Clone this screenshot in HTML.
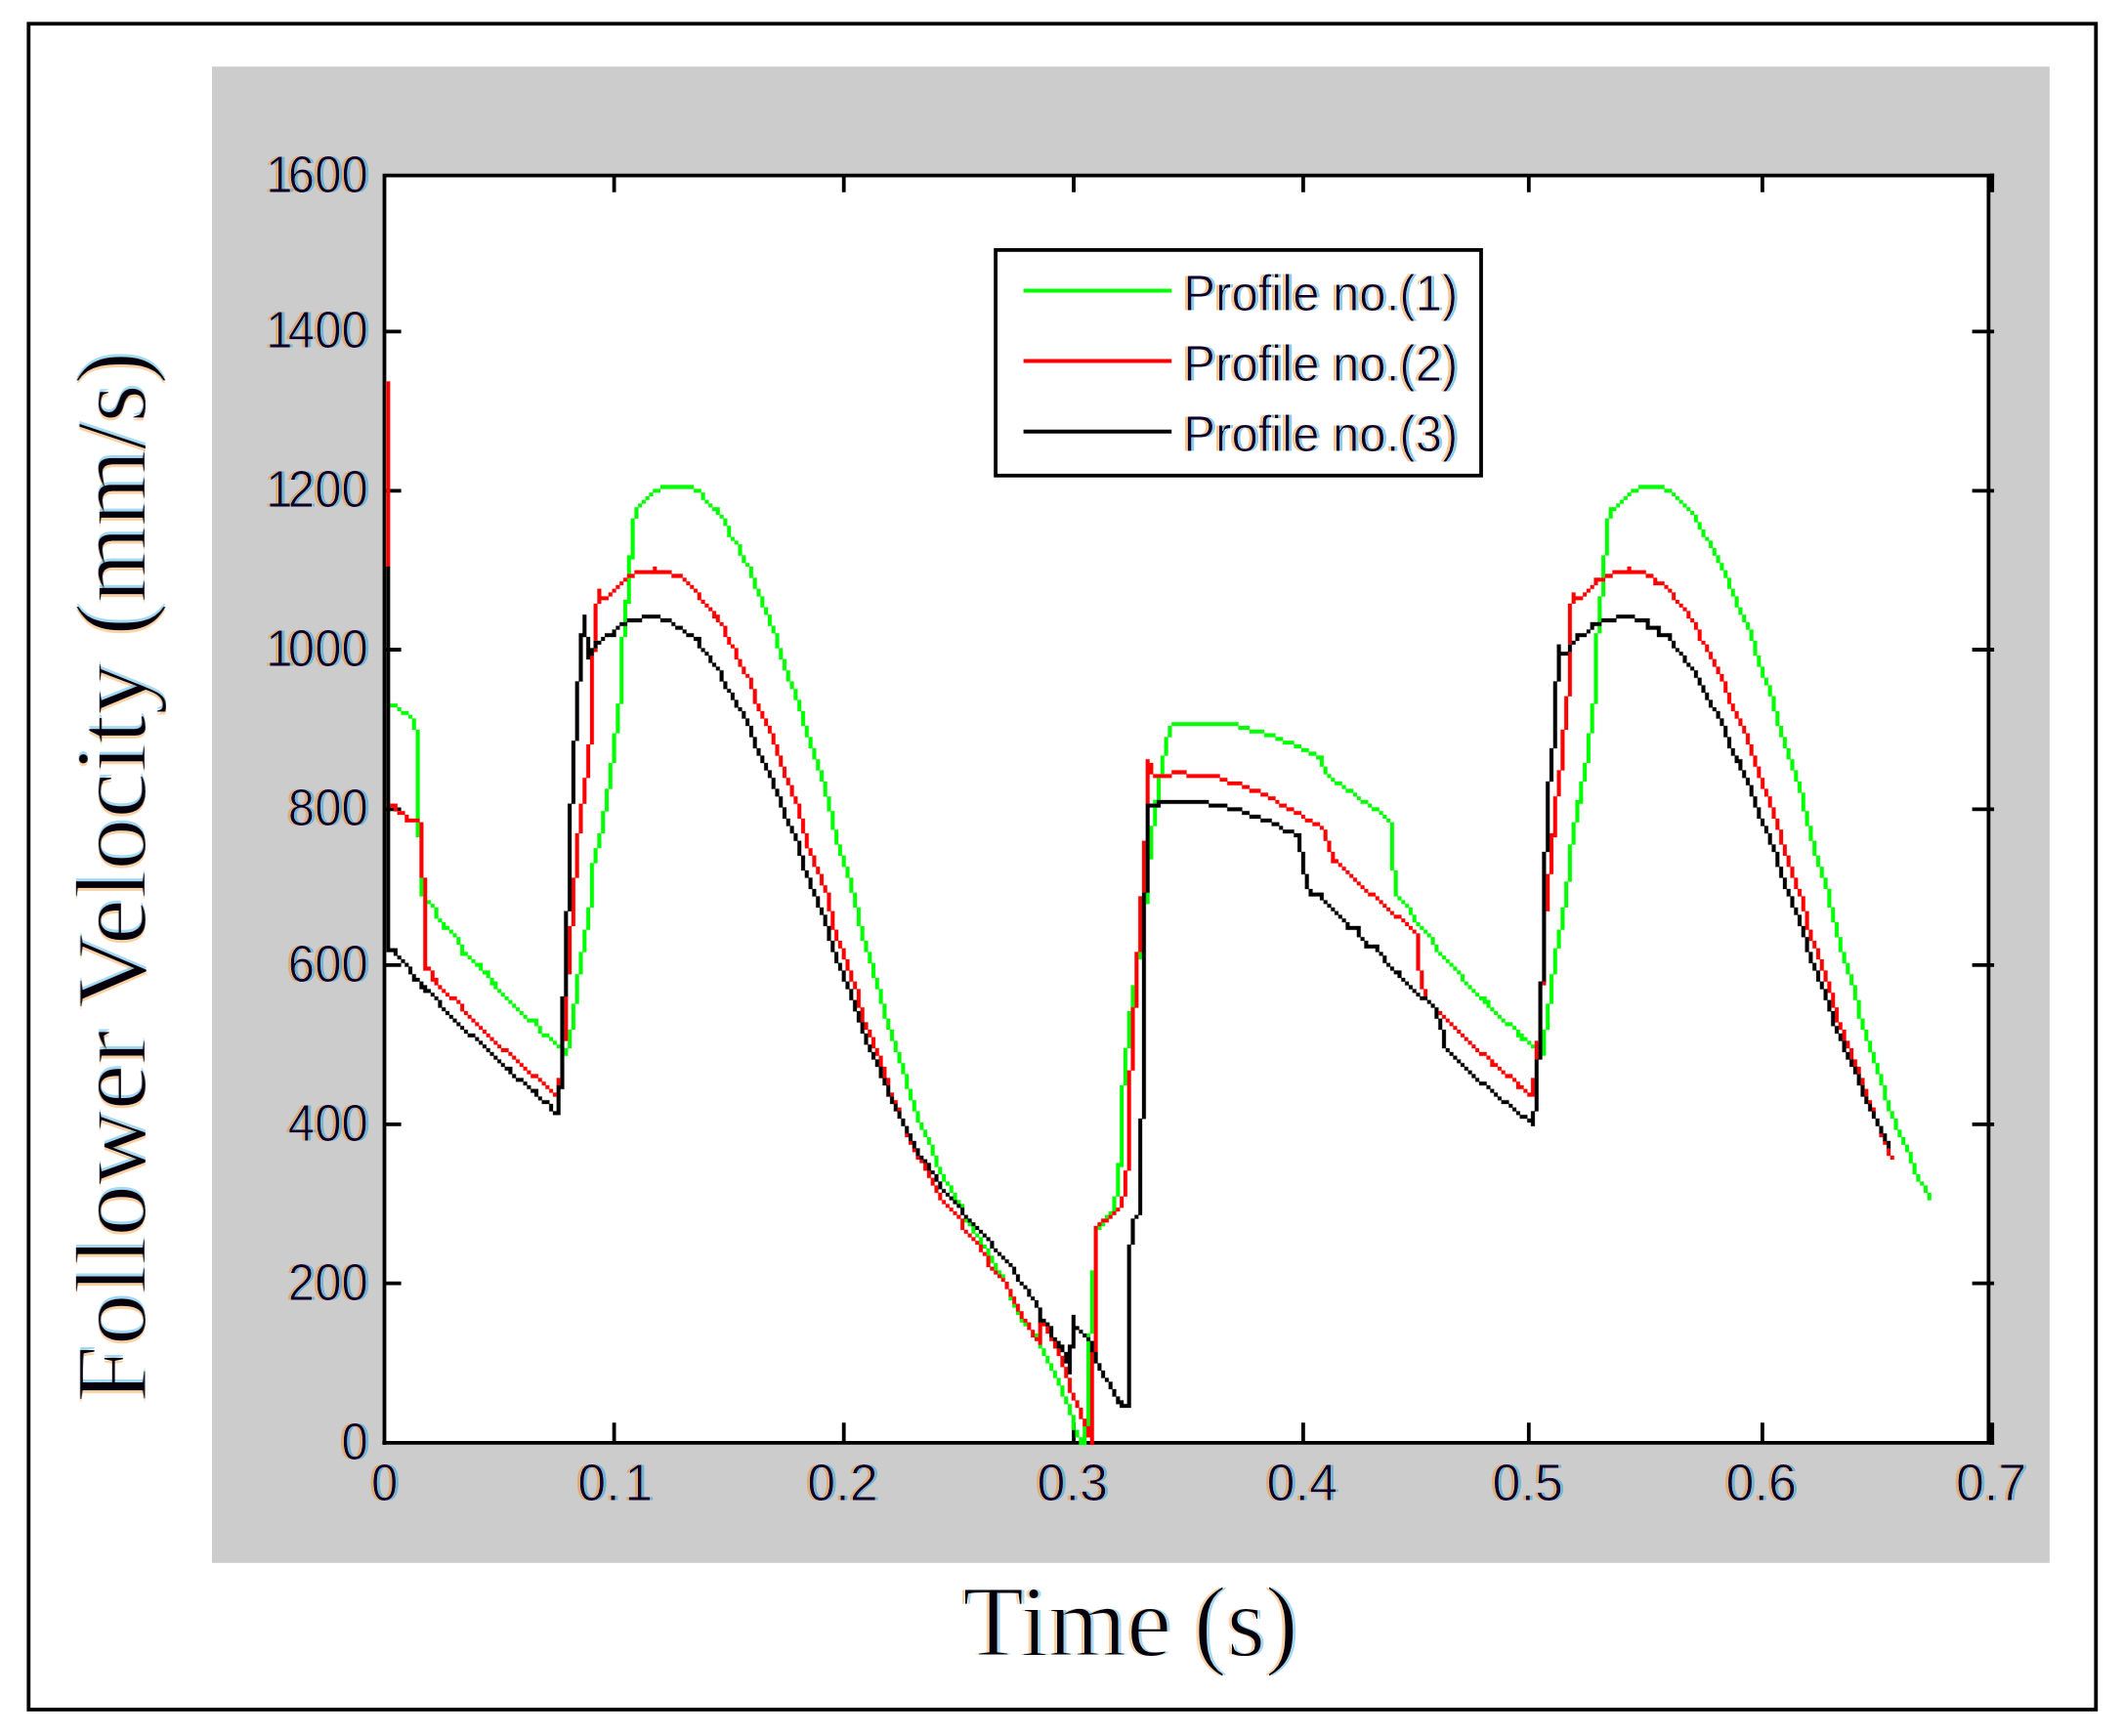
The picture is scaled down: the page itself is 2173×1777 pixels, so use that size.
<!DOCTYPE html>
<html lang="en"><head><meta charset="utf-8"><title>Follower Velocity vs Time</title>
<style>html,body{margin:0;padding:0;background:#fff}svg{display:block}.sans{font-family:"Liberation Sans",sans-serif;fill:#000}.serif{font-family:"Liberation Serif",serif;fill:#000;stroke:#fff;stroke-width:1.8px;paint-order:fill stroke;filter:url(#fs)}.tg{stroke:#ccc;stroke-width:1px;paint-order:fill stroke;filter:url(#fg)}.tw{stroke:#fff;stroke-width:1px;paint-order:fill stroke;filter:url(#fw)}.ln{fill:none;stroke-width:3.9;stroke-linejoin:miter;stroke-linecap:butt}</style></head><body>
<svg width="2173" height="1777" viewBox="0 0 2173 1777">
<defs>
<filter id="fg" x="-5%" y="-20%" width="110%" height="140%" color-interpolation-filters="sRGB">
<feColorMatrix in="SourceGraphic" type="matrix" values="0 0 0 0 0  0 0 0 0 0  0 0 0 0 0  -1.25 0 0 1 0" result="a"/>
<feFlood flood-color="#f09020" flood-opacity="0.5"/><feComposite in2="a" operator="in"/><feOffset dx="-2.7" result="l"/>
<feFlood flood-color="#18a0e0" flood-opacity="0.5"/><feComposite in2="a" operator="in"/><feOffset dx="2.7" result="r"/>
<feFlood flood-color="#12002a"/><feComposite in2="a" operator="in" result="c"/>
<feMerge><feMergeNode in="l"/><feMergeNode in="r"/><feMergeNode in="c"/></feMerge>
</filter>
<filter id="fw" x="-5%" y="-20%" width="110%" height="140%" color-interpolation-filters="sRGB">
<feColorMatrix in="SourceGraphic" type="matrix" values="0 0 0 0 0  0 0 0 0 0  0 0 0 0 0  -1 0 0 1 0" result="a"/>
<feFlood flood-color="#f09020" flood-opacity="0.5"/><feComposite in2="a" operator="in"/><feOffset dx="-2.7" result="l"/>
<feFlood flood-color="#18a0e0" flood-opacity="0.5"/><feComposite in2="a" operator="in"/><feOffset dx="2.7" result="r"/>
<feFlood flood-color="#12002a"/><feComposite in2="a" operator="in" result="c"/>
<feMerge><feMergeNode in="l"/><feMergeNode in="r"/><feMergeNode in="c"/></feMerge>
</filter>
<filter id="fs" x="-5%" y="-20%" width="110%" height="140%" color-interpolation-filters="sRGB">
<feColorMatrix in="SourceGraphic" type="matrix" values="0 0 0 0 0  0 0 0 0 0  0 0 0 0 0  -1 0 0 1 0" result="a"/>
<feFlood flood-color="#f09020" flood-opacity="0.4"/><feComposite in2="a" operator="in"/><feOffset dx="-2.6" result="l"/>
<feFlood flood-color="#18a0e0" flood-opacity="0.4"/><feComposite in2="a" operator="in"/><feOffset dx="2.6" result="r"/>
<feFlood flood-color="#06000c"/><feComposite in2="a" operator="in" result="c"/>
<feMerge><feMergeNode in="l"/><feMergeNode in="r"/><feMergeNode in="c"/></feMerge>
</filter>
</defs>
<rect x="0" y="0" width="2173" height="1777" fill="#fff"/>
<rect x="29.3" y="24.3" width="2116" height="1725.6" fill="none" stroke="#000" stroke-width="3.8"/>
<rect x="217" y="68.2" width="1880.9" height="1531.6" fill="#cccccc"/>
<rect x="393.5" y="179.7" width="1641.9" height="1297.2" fill="#fff"/>
<g stroke="#000" stroke-width="3.8" fill="none">
<path d="M393.5 1478.8000000000002V179.7H2041.1"/>
<path d="M391.6 1476.9H2041.1"/>
<path d="M2035.4 179.7V1476.9"/>
<path d="M628.6 1476.9V1456.2M628.6 179.7V196.8"/>
<path d="M863.7 1476.9V1456.2M863.7 179.7V196.8"/>
<path d="M1099.0 1476.9V1456.2M1099.0 179.7V196.8"/>
<path d="M1333.9 1476.9V1456.2M1333.9 179.7V196.8"/>
<path d="M1564.8 1476.9V1456.2M1564.8 179.7V196.8"/>
<path d="M1803.9 1476.9V1456.2M1803.9 179.7V196.8"/>
<path stroke-width="4.4" d="M2038.9 1478.8000000000002V1456.2M2038.9 177.79999999999998V196.8"/>
<path d="M393.5 339.3H410.6M2018.6 339.3H2041.1"/>
<path d="M393.5 502.4H410.6M2018.6 502.4H2041.1"/>
<path d="M393.5 665.0H410.6M2018.6 665.0H2041.1"/>
<path d="M393.5 828.3H410.6M2018.6 828.3H2041.1"/>
<path d="M393.5 987.8H410.6M2018.6 987.8H2041.1"/>
<path d="M393.5 1150.8H410.6M2018.6 1150.8H2041.1"/>
<path d="M393.5 1313.7H410.6M2018.6 1313.7H2041.1"/>
</g>
<path fill="#00ff00" stroke="#00ff00" stroke-width="0.3" d="M676.0 496.6h34.1v3.8h-34.1zM1677.1 496.6h26.5v3.8h-26.5zM668.4 500.4h7.6v3.8h-7.6zM710.1 500.4h7.6v3.8h-7.6zM1669.5 500.4h7.6v3.8h-7.6zM1703.6 500.4h7.6v3.8h-7.6zM664.6 504.2h3.8v3.8h-3.8zM1665.7 504.2h3.8v3.8h-3.8zM1711.2 504.2h3.8v3.8h-3.8zM717.7 504.2h3.8v7.6h-3.8zM660.8 508.0h3.8v3.8h-3.8zM1661.9 508.0h3.8v3.8h-3.8zM1715.0 508.0h3.8v3.8h-3.8zM657.0 511.7h3.8v3.8h-3.8zM721.5 511.7h3.8v3.8h-3.8zM1658.1 511.7h3.8v3.8h-3.8zM1718.8 511.7h3.8v3.8h-3.8zM653.2 515.5h3.8v3.8h-3.8zM725.3 515.5h3.8v3.8h-3.8zM1654.3 515.5h3.8v3.8h-3.8zM1722.6 515.5h3.8v3.8h-3.8zM729.1 519.3h3.8v3.8h-3.8zM1650.5 519.3h3.8v3.8h-3.8zM1726.4 519.3h3.8v3.8h-3.8zM732.9 519.3h3.8v7.6h-3.8zM649.5 519.3h3.8v11.4h-3.8zM1646.8 519.3h3.8v11.4h-3.8zM1730.2 523.1h3.8v3.8h-3.8zM736.7 526.9h3.8v3.8h-3.8zM1734.0 526.9h3.8v7.6h-3.8zM740.5 530.7h3.8v7.6h-3.8zM1643.0 530.7h3.8v37.9h-3.8zM645.7 530.7h3.8v41.7h-3.8zM1737.8 534.5h3.8v7.6h-3.8zM744.3 538.3h3.8v11.4h-3.8zM1741.6 542.1h3.8v7.6h-3.8zM748.0 549.7h3.8v3.8h-3.8zM1745.3 549.7h3.8v3.8h-3.8zM751.8 553.5h3.8v3.8h-3.8zM1749.1 553.5h3.8v7.6h-3.8zM755.6 557.3h3.8v11.4h-3.8zM1752.9 561.1h3.8v7.6h-3.8zM759.4 568.6h3.8v7.6h-3.8zM1756.7 568.6h3.8v7.6h-3.8zM641.9 568.6h3.8v19.0h-3.8zM1639.2 568.6h3.8v22.8h-3.8zM763.2 576.2h3.8v3.8h-3.8zM1760.5 576.2h3.8v7.6h-3.8zM767.0 580.0h3.8v11.4h-3.8zM1764.3 583.8h3.8v7.6h-3.8zM770.8 591.4h3.8v11.4h-3.8zM1768.1 591.4h3.8v11.4h-3.8zM641.9 591.4h3.8v26.5h-3.8zM1639.2 595.2h3.8v15.2h-3.8zM774.6 602.8h3.8v7.6h-3.8zM1771.9 602.8h3.8v7.6h-3.8zM778.4 610.4h3.8v11.4h-3.8zM1775.7 610.4h3.8v11.4h-3.8zM1635.4 610.4h3.8v26.5h-3.8zM638.1 614.1h3.8v22.8h-3.8zM782.2 621.7h3.8v7.6h-3.8zM1779.5 621.7h3.8v7.6h-3.8zM1783.3 629.3h3.8v7.6h-3.8zM786.0 629.3h3.8v11.4h-3.8zM1787.1 636.9h3.8v7.6h-3.8zM789.8 640.7h3.8v7.6h-3.8zM1635.4 640.7h3.8v7.6h-3.8zM638.1 640.7h3.8v11.4h-3.8zM1790.8 644.5h3.8v11.4h-3.8zM793.6 648.3h3.8v15.2h-3.8zM1631.6 648.3h3.8v72.1h-3.8zM634.3 652.1h3.8v68.3h-3.8zM1794.6 655.9h3.8v15.2h-3.8zM797.3 663.5h3.8v11.4h-3.8zM1798.4 671.0h3.8v11.4h-3.8zM801.1 674.8h3.8v11.4h-3.8zM1802.2 682.4h3.8v11.4h-3.8zM804.9 686.2h3.8v11.4h-3.8zM1806.0 693.8h3.8v7.6h-3.8zM808.7 697.6h3.8v7.6h-3.8zM1809.8 701.4h3.8v11.4h-3.8zM812.5 705.2h3.8v11.4h-3.8zM1813.6 712.8h3.8v15.2h-3.8zM816.3 716.6h3.8v11.4h-3.8zM399.2 720.3h7.6v3.8h-7.6zM630.5 720.3h3.8v30.3h-3.8zM1627.8 720.3h3.8v30.3h-3.8zM406.8 724.1h3.8v3.8h-3.8zM410.6 727.9h7.6v3.8h-7.6zM820.1 727.9h3.8v15.2h-3.8zM1817.4 727.9h3.8v15.2h-3.8zM418.1 731.7h3.8v3.8h-3.8zM421.9 735.5h3.8v11.4h-3.8zM1199.3 739.3h68.3v3.8h-68.3zM1267.6 743.1h11.4v3.8h-11.4zM823.9 743.1h3.8v11.4h-3.8zM1195.5 743.1h3.8v11.4h-3.8zM1821.2 743.1h3.8v11.4h-3.8zM1278.9 746.9h15.2v3.8h-15.2zM425.7 746.9h3.8v91.0h-3.8zM1294.1 750.7h11.4v3.8h-11.4zM626.7 750.7h3.8v30.3h-3.8zM1624.0 750.7h3.8v30.3h-3.8zM1305.5 754.5h7.6v3.8h-7.6zM827.7 754.5h3.8v11.4h-3.8zM1825.0 754.5h3.8v11.4h-3.8zM1191.7 754.5h3.8v19.0h-3.8zM1313.1 758.3h11.4v3.8h-11.4zM1324.4 762.1h7.6v3.8h-7.6zM1332.0 765.9h7.6v3.8h-7.6zM831.5 765.9h3.8v11.4h-3.8zM1828.8 765.9h3.8v11.4h-3.8zM1339.6 769.6h7.6v3.8h-7.6zM1347.2 773.4h3.8v3.8h-3.8zM1351.0 773.4h3.8v11.4h-3.8zM1187.9 773.4h3.8v19.0h-3.8zM835.3 777.2h3.8v11.4h-3.8zM1832.6 777.2h3.8v11.4h-3.8zM1620.2 781.0h3.8v19.0h-3.8zM622.9 781.0h3.8v26.5h-3.8zM1354.8 784.8h3.8v7.6h-3.8zM839.1 788.6h3.8v11.4h-3.8zM1836.4 788.6h3.8v11.4h-3.8zM1358.6 792.4h3.8v3.8h-3.8zM1362.4 796.2h3.8v3.8h-3.8zM1184.1 796.2h3.8v22.8h-3.8zM1366.1 800.0h7.6v3.8h-7.6zM1840.1 800.0h3.8v11.4h-3.8zM842.8 800.0h3.8v15.2h-3.8zM1616.4 800.0h3.8v22.8h-3.8zM1373.7 803.8h3.8v3.8h-3.8zM1377.5 807.6h7.6v3.8h-7.6zM619.1 807.6h3.8v22.8h-3.8zM1385.1 811.4h3.8v3.8h-3.8zM1843.9 811.4h3.8v19.0h-3.8zM1388.9 815.2h3.8v3.8h-3.8zM846.6 815.2h3.8v15.2h-3.8zM1180.3 819.0h3.8v3.8h-3.8zM1392.7 819.0h7.6v3.8h-7.6zM1612.6 819.0h3.8v22.8h-3.8zM1400.3 822.7h3.8v3.8h-3.8zM1404.1 826.5h7.6v3.8h-7.6zM1180.3 826.5h3.8v19.0h-3.8zM1411.7 830.3h3.8v3.8h-3.8zM1847.7 830.3h3.8v15.2h-3.8zM850.4 830.3h3.8v19.0h-3.8zM615.3 830.3h3.8v22.8h-3.8zM1415.4 834.1h3.8v3.8h-3.8zM1419.2 837.9h3.8v3.8h-3.8zM425.7 841.7h3.8v15.2h-3.8zM1608.8 841.7h3.8v22.8h-3.8zM1423.0 841.7h3.8v49.3h-3.8zM1851.5 845.5h3.8v15.2h-3.8zM1176.5 845.5h3.8v34.1h-3.8zM854.2 849.3h3.8v15.2h-3.8zM611.5 853.1h3.8v15.2h-3.8zM1855.3 860.7h3.8v15.2h-3.8zM858.0 864.5h3.8v11.4h-3.8zM1605.0 864.5h3.8v37.9h-3.8zM607.7 868.3h3.8v15.2h-3.8zM861.8 875.8h3.8v11.4h-3.8zM1859.1 875.8h3.8v11.4h-3.8zM604.0 883.4h3.8v45.5h-3.8zM865.6 887.2h3.8v11.4h-3.8zM1862.9 887.2h3.8v11.4h-3.8zM1426.8 891.0h3.8v26.5h-3.8zM1866.7 898.6h3.8v11.4h-3.8zM869.4 898.6h3.8v15.2h-3.8zM429.5 898.6h3.8v19.0h-3.8zM1601.2 902.4h3.8v26.5h-3.8zM1870.5 910.0h3.8v19.0h-3.8zM1172.8 913.8h3.8v11.4h-3.8zM873.2 913.8h3.8v15.2h-3.8zM1430.6 917.6h3.8v3.8h-3.8zM437.1 921.4h3.8v3.8h-3.8zM1434.4 921.4h3.8v3.8h-3.8zM440.9 925.2h3.8v3.8h-3.8zM1438.2 925.2h3.8v3.8h-3.8zM1442.0 928.9h3.8v7.6h-3.8zM444.7 928.9h3.8v11.4h-3.8zM1874.3 928.9h3.8v15.2h-3.8zM877.0 928.9h3.8v19.0h-3.8zM600.2 928.9h3.8v22.8h-3.8zM1597.5 928.9h3.8v22.8h-3.8zM1445.8 936.5h3.8v7.6h-3.8zM448.5 940.3h3.8v3.8h-3.8zM1449.6 944.1h3.8v3.8h-3.8zM452.3 944.1h3.8v7.6h-3.8zM1878.1 944.1h3.8v15.2h-3.8zM456.1 947.9h3.8v3.8h-3.8zM1453.4 947.9h3.8v3.8h-3.8zM880.8 947.9h3.8v15.2h-3.8zM459.9 951.7h3.8v3.8h-3.8zM1457.2 951.7h3.8v3.8h-3.8zM1593.7 951.7h3.8v19.0h-3.8zM596.4 951.7h3.8v22.8h-3.8zM463.6 955.5h3.8v3.8h-3.8zM1460.9 955.5h3.8v3.8h-3.8zM467.4 959.3h3.8v7.6h-3.8zM1464.7 959.3h3.8v7.6h-3.8zM1881.9 959.3h3.8v15.2h-3.8zM884.6 963.1h3.8v11.4h-3.8zM1468.5 966.9h3.8v7.6h-3.8zM471.2 966.9h3.8v11.4h-3.8zM1589.9 970.7h3.8v26.5h-3.8zM475.0 974.5h3.8v3.8h-3.8zM1472.3 974.5h3.8v3.8h-3.8zM1165.2 974.5h3.8v7.6h-3.8zM888.4 974.5h3.8v11.4h-3.8zM1885.7 974.5h3.8v11.4h-3.8zM592.6 974.5h3.8v22.8h-3.8zM478.8 978.2h3.8v3.8h-3.8zM1476.1 978.2h3.8v3.8h-3.8zM482.6 982.0h3.8v3.8h-3.8zM1479.9 982.0h3.8v3.8h-3.8zM486.4 985.8h3.8v3.8h-3.8zM1483.7 985.8h3.8v3.8h-3.8zM490.2 985.8h3.8v7.6h-3.8zM1889.4 985.8h3.8v11.4h-3.8zM892.1 985.8h3.8v15.2h-3.8zM1487.5 989.6h3.8v3.8h-3.8zM494.0 993.4h3.8v3.8h-3.8zM1491.3 993.4h3.8v3.8h-3.8zM497.8 993.4h3.8v7.6h-3.8zM1495.1 997.2h3.8v7.6h-3.8zM1893.2 997.2h3.8v11.4h-3.8zM588.8 997.2h3.8v30.3h-3.8zM1586.1 997.2h3.8v30.3h-3.8zM501.6 1001.0h3.8v7.6h-3.8zM895.9 1001.0h3.8v11.4h-3.8zM1498.9 1004.8h3.8v3.8h-3.8zM505.4 1004.8h3.8v7.6h-3.8zM1502.7 1008.6h3.8v3.8h-3.8zM1897.0 1008.6h3.8v15.2h-3.8zM1157.6 1008.6h3.8v22.8h-3.8zM509.2 1012.4h3.8v3.8h-3.8zM1506.5 1012.4h3.8v3.8h-3.8zM899.7 1012.4h3.8v15.2h-3.8zM512.9 1016.2h3.8v3.8h-3.8zM1510.2 1016.2h3.8v3.8h-3.8zM516.7 1020.0h3.8v3.8h-3.8zM1514.0 1020.0h3.8v3.8h-3.8zM1517.8 1020.0h3.8v7.6h-3.8zM520.5 1023.8h3.8v3.8h-3.8zM1521.6 1023.8h3.8v7.6h-3.8zM1900.8 1023.8h3.8v19.0h-3.8zM524.3 1027.6h3.8v3.8h-3.8zM903.5 1027.6h3.8v15.2h-3.8zM585.0 1027.6h3.8v26.5h-3.8zM1582.3 1027.6h3.8v26.5h-3.8zM528.1 1031.3h3.8v3.8h-3.8zM1525.4 1031.3h3.8v3.8h-3.8zM531.9 1035.1h3.8v3.8h-3.8zM1529.2 1035.1h3.8v3.8h-3.8zM1153.8 1035.1h3.8v37.9h-3.8zM535.7 1038.9h3.8v3.8h-3.8zM1533.0 1038.9h3.8v3.8h-3.8zM539.5 1042.7h7.6v3.8h-7.6zM1536.8 1042.7h3.8v3.8h-3.8zM547.1 1042.7h3.8v7.6h-3.8zM907.3 1042.7h3.8v11.4h-3.8zM1904.6 1042.7h3.8v11.4h-3.8zM1540.6 1046.5h7.6v3.8h-7.6zM1548.2 1050.3h3.8v3.8h-3.8zM550.9 1050.3h3.8v7.6h-3.8zM1552.0 1054.1h3.8v7.6h-3.8zM911.1 1054.1h3.8v11.4h-3.8zM1908.4 1054.1h3.8v11.4h-3.8zM581.2 1054.1h3.8v19.0h-3.8zM1578.5 1054.1h3.8v26.5h-3.8zM554.7 1057.9h7.6v3.8h-7.6zM1555.7 1057.9h3.8v7.6h-3.8zM562.2 1061.7h3.8v3.8h-3.8zM1559.5 1061.7h3.8v3.8h-3.8zM566.0 1065.5h3.8v3.8h-3.8zM1563.3 1065.5h3.8v3.8h-3.8zM914.9 1065.5h3.8v11.4h-3.8zM1912.2 1065.5h3.8v11.4h-3.8zM569.8 1069.3h3.8v3.8h-3.8zM1567.1 1069.3h3.8v3.8h-3.8zM577.4 1073.1h3.8v7.6h-3.8zM1150.0 1073.1h3.8v37.9h-3.8zM918.7 1076.9h3.8v11.4h-3.8zM1916.0 1076.9h3.8v11.4h-3.8zM922.5 1088.2h3.8v11.4h-3.8zM1919.8 1088.2h3.8v11.4h-3.8zM1923.6 1099.6h3.8v11.4h-3.8zM926.3 1099.6h3.8v15.2h-3.8zM1927.4 1111.0h3.8v15.2h-3.8zM1146.2 1111.0h3.8v83.4h-3.8zM930.1 1114.8h3.8v11.4h-3.8zM933.9 1126.2h3.8v11.4h-3.8zM1931.2 1126.2h3.8v11.4h-3.8zM1934.9 1137.5h3.8v7.6h-3.8zM937.6 1137.5h3.8v11.4h-3.8zM1938.7 1145.1h3.8v11.4h-3.8zM941.4 1148.9h3.8v7.6h-3.8zM945.2 1156.5h3.8v7.6h-3.8zM1942.5 1156.5h3.8v7.6h-3.8zM949.0 1164.1h3.8v7.6h-3.8zM1946.3 1164.1h3.8v7.6h-3.8zM1950.1 1171.7h3.8v7.6h-3.8zM952.8 1171.7h3.8v11.4h-3.8zM1953.9 1179.3h3.8v11.4h-3.8zM956.6 1183.1h3.8v11.4h-3.8zM1957.7 1190.6h3.8v11.4h-3.8zM1142.4 1190.6h3.8v34.1h-3.8zM960.4 1194.4h3.8v7.6h-3.8zM964.2 1202.0h3.8v7.6h-3.8zM1961.5 1202.0h3.8v7.6h-3.8zM968.0 1209.6h3.8v3.8h-3.8zM1965.3 1209.6h3.8v3.8h-3.8zM971.8 1213.4h3.8v7.6h-3.8zM1969.1 1213.4h3.8v7.6h-3.8zM975.6 1221.0h3.8v7.6h-3.8zM1972.9 1221.0h3.8v7.6h-3.8zM1138.6 1224.8h3.8v15.2h-3.8zM979.4 1228.6h3.8v3.8h-3.8zM983.2 1232.4h3.8v3.8h-3.8zM1134.8 1239.9h3.8v3.8h-3.8zM1131.0 1243.7h3.8v3.8h-3.8zM986.9 1247.5h3.8v3.8h-3.8zM990.7 1251.3h3.8v3.8h-3.8zM1127.2 1251.3h3.8v3.8h-3.8zM1123.5 1255.1h3.8v3.8h-3.8zM994.5 1255.1h3.8v7.6h-3.8zM998.3 1262.7h3.8v3.8h-3.8zM1002.1 1266.5h3.8v7.6h-3.8zM1005.9 1274.1h3.8v3.8h-3.8zM1009.7 1277.9h3.8v7.6h-3.8zM1013.5 1285.5h3.8v7.6h-3.8zM1017.3 1293.0h3.8v7.6h-3.8zM1021.1 1300.6h3.8v3.8h-3.8zM1115.9 1300.6h3.8v64.5h-3.8zM1024.9 1304.4h3.8v3.8h-3.8zM1032.5 1327.2h3.8v3.8h-3.8zM1036.2 1334.8h3.8v3.8h-3.8zM1040.0 1342.3h3.8v3.8h-3.8zM1043.8 1349.9h3.8v3.8h-3.8zM1047.6 1353.7h3.8v3.8h-3.8zM1059.0 1365.1h3.8v3.8h-3.8zM1112.1 1365.1h3.8v3.8h-3.8zM1112.1 1372.7h3.8v87.2h-3.8zM1062.8 1376.5h3.8v3.8h-3.8zM1066.6 1380.3h3.8v7.6h-3.8zM1070.4 1387.9h3.8v7.6h-3.8zM1074.2 1395.4h3.8v7.6h-3.8zM1078.0 1403.0h3.8v7.6h-3.8zM1081.7 1410.6h3.8v7.6h-3.8zM1085.5 1418.2h3.8v11.4h-3.8zM1089.3 1429.6h3.8v7.6h-3.8zM1093.1 1437.2h3.8v11.4h-3.8zM1096.9 1448.5h3.8v15.2h-3.8zM1108.3 1459.9h3.8v19.0h-3.8zM1100.7 1463.7h3.8v7.6h-3.8zM1104.5 1471.3h3.8v7.6h-3.8z"/>
<path fill="#ff0000" stroke="#ff0000" stroke-width="0.3" d="M395.4 390.4h3.8v189.6h-3.8zM668.4 580.0h3.8v7.6h-3.8zM1665.7 580.0h3.8v7.6h-3.8zM649.5 583.8h19.0v3.8h-19.0zM672.2 583.8h15.2v3.8h-15.2zM1650.5 583.8h15.2v3.8h-15.2zM1669.5 583.8h15.2v3.8h-15.2zM641.9 587.6h7.6v3.8h-7.6zM687.4 587.6h11.4v3.8h-11.4zM1643.0 587.6h7.6v3.8h-7.6zM1684.7 587.6h7.6v3.8h-7.6zM638.1 591.4h3.8v3.8h-3.8zM698.8 591.4h3.8v3.8h-3.8zM1635.4 591.4h7.6v3.8h-7.6zM1631.6 591.4h3.8v7.6h-3.8zM1692.3 591.4h3.8v7.6h-3.8zM634.3 595.2h3.8v3.8h-3.8zM702.5 595.2h3.8v3.8h-3.8zM1696.0 595.2h7.6v3.8h-7.6zM630.5 599.0h3.8v3.8h-3.8zM706.3 599.0h3.8v3.8h-3.8zM1627.8 599.0h3.8v3.8h-3.8zM1703.6 599.0h3.8v3.8h-3.8zM626.7 602.8h3.8v3.8h-3.8zM710.1 602.8h3.8v3.8h-3.8zM1624.0 602.8h3.8v3.8h-3.8zM1707.4 602.8h3.8v3.8h-3.8zM611.5 602.8h3.8v15.2h-3.8zM622.9 606.6h3.8v3.8h-3.8zM1620.2 606.6h3.8v3.8h-3.8zM713.9 606.6h3.8v7.6h-3.8zM1711.2 606.6h3.8v7.6h-3.8zM1608.8 606.6h3.8v11.4h-3.8zM615.3 610.4h7.6v3.8h-7.6zM1612.6 610.4h7.6v3.8h-7.6zM717.7 614.1h3.8v3.8h-3.8zM1715.0 614.1h3.8v3.8h-3.8zM721.5 617.9h3.8v3.8h-3.8zM1718.8 617.9h3.8v3.8h-3.8zM607.7 617.9h3.8v37.9h-3.8zM1605.0 617.9h3.8v41.7h-3.8zM725.3 621.7h3.8v3.8h-3.8zM1722.6 621.7h3.8v3.8h-3.8zM729.1 625.5h3.8v7.6h-3.8zM1726.4 625.5h3.8v7.6h-3.8zM732.9 629.3h3.8v7.6h-3.8zM1730.2 633.1h3.8v3.8h-3.8zM736.7 636.9h3.8v3.8h-3.8zM1734.0 636.9h3.8v7.6h-3.8zM740.5 640.7h3.8v11.4h-3.8zM1737.8 644.5h3.8v11.4h-3.8zM744.3 652.1h3.8v7.6h-3.8zM1741.6 655.9h3.8v3.8h-3.8zM748.0 659.7h3.8v3.8h-3.8zM1745.3 659.7h3.8v7.6h-3.8zM607.7 663.5h3.8v3.8h-3.8zM751.8 663.5h3.8v11.4h-3.8zM1749.1 667.2h3.8v7.6h-3.8zM1605.0 667.2h3.8v45.5h-3.8zM604.0 671.0h3.8v91.0h-3.8zM755.6 674.8h3.8v7.6h-3.8zM1752.9 674.8h3.8v7.6h-3.8zM759.4 682.4h3.8v7.6h-3.8zM1756.7 682.4h3.8v7.6h-3.8zM763.2 690.0h3.8v3.8h-3.8zM1760.5 690.0h3.8v7.6h-3.8zM767.0 693.8h3.8v11.4h-3.8zM1764.3 697.6h3.8v11.4h-3.8zM770.8 705.2h3.8v15.2h-3.8zM1768.1 709.0h3.8v11.4h-3.8zM1601.2 712.8h3.8v34.1h-3.8zM774.6 720.3h3.8v7.6h-3.8zM1771.9 720.3h3.8v7.6h-3.8zM778.4 727.9h3.8v7.6h-3.8zM1775.7 727.9h3.8v7.6h-3.8zM782.2 735.5h3.8v7.6h-3.8zM1779.5 735.5h3.8v7.6h-3.8zM786.0 743.1h3.8v7.6h-3.8zM1783.3 743.1h3.8v7.6h-3.8zM1597.5 746.9h3.8v41.7h-3.8zM789.8 750.7h3.8v11.4h-3.8zM1787.1 750.7h3.8v11.4h-3.8zM793.6 762.1h3.8v11.4h-3.8zM1790.8 762.1h3.8v11.4h-3.8zM600.2 762.1h3.8v34.1h-3.8zM797.3 773.4h3.8v11.4h-3.8zM1794.6 773.4h3.8v11.4h-3.8zM1172.8 777.2h3.8v45.5h-3.8zM1176.5 781.0h3.8v11.4h-3.8zM801.1 784.8h3.8v11.4h-3.8zM1798.4 784.8h3.8v11.4h-3.8zM1199.3 788.6h15.2v3.8h-15.2zM1593.7 788.6h3.8v26.5h-3.8zM1180.3 792.4h19.0v3.8h-19.0zM1214.5 792.4h34.1v3.8h-34.1zM1248.6 796.2h7.6v3.8h-7.6zM804.9 796.2h3.8v7.6h-3.8zM1802.2 796.2h3.8v11.4h-3.8zM596.4 796.2h3.8v26.5h-3.8zM1256.2 800.0h15.2v3.8h-15.2zM1271.3 803.8h7.6v3.8h-7.6zM808.7 803.8h3.8v11.4h-3.8zM1278.9 807.6h11.4v3.8h-11.4zM1806.0 807.6h3.8v7.6h-3.8zM1290.3 811.4h7.6v3.8h-7.6zM1297.9 815.2h7.6v3.8h-7.6zM812.5 815.2h3.8v7.6h-3.8zM1809.8 815.2h3.8v11.4h-3.8zM1589.9 815.2h3.8v41.7h-3.8zM1305.5 819.0h3.8v3.8h-3.8zM399.2 822.7h3.8v3.8h-3.8zM1309.3 822.7h7.6v3.8h-7.6zM403.0 822.7h3.8v7.6h-3.8zM816.3 822.7h3.8v15.2h-3.8zM592.6 822.7h3.8v30.3h-3.8zM1316.8 826.5h7.6v3.8h-7.6zM1813.6 826.5h3.8v11.4h-3.8zM406.8 830.3h7.6v3.8h-7.6zM1324.4 830.3h7.6v3.8h-7.6zM1332.0 834.1h3.8v3.8h-3.8zM414.4 834.1h3.8v7.6h-3.8zM418.1 837.9h11.4v3.8h-11.4zM1335.8 837.9h7.6v3.8h-7.6zM1817.4 837.9h3.8v11.4h-3.8zM820.1 837.9h3.8v15.2h-3.8zM1343.4 841.7h7.6v3.8h-7.6zM429.5 841.7h3.8v56.9h-3.8zM1351.0 845.5h3.8v3.8h-3.8zM1354.8 849.3h3.8v11.4h-3.8zM1821.2 849.3h3.8v15.2h-3.8zM823.9 853.1h3.8v15.2h-3.8zM1586.1 853.1h3.8v41.7h-3.8zM588.8 853.1h3.8v45.5h-3.8zM1358.6 860.7h3.8v11.4h-3.8zM1169.0 860.7h3.8v53.1h-3.8zM1825.0 864.5h3.8v11.4h-3.8zM827.7 868.3h3.8v7.6h-3.8zM1362.4 872.1h3.8v11.4h-3.8zM831.5 875.8h3.8v11.4h-3.8zM1828.8 875.8h3.8v11.4h-3.8zM1366.1 879.6h3.8v3.8h-3.8zM1369.9 883.4h3.8v3.8h-3.8zM1373.7 887.2h3.8v3.8h-3.8zM835.3 887.2h3.8v7.6h-3.8zM1832.6 887.2h3.8v11.4h-3.8zM1377.5 891.0h3.8v3.8h-3.8zM1381.3 894.8h3.8v3.8h-3.8zM839.1 894.8h3.8v11.4h-3.8zM1582.3 894.8h3.8v37.9h-3.8zM1385.1 898.6h3.8v3.8h-3.8zM1836.4 898.6h3.8v11.4h-3.8zM585.0 898.6h3.8v49.3h-3.8zM433.3 898.6h3.8v94.8h-3.8zM1388.9 902.4h3.8v3.8h-3.8zM1392.7 906.2h3.8v3.8h-3.8zM842.8 906.2h3.8v7.6h-3.8zM1396.5 910.0h3.8v3.8h-3.8zM1840.1 910.0h3.8v7.6h-3.8zM1400.3 913.8h7.6v3.8h-7.6zM846.6 913.8h3.8v19.0h-3.8zM1407.9 917.6h3.8v3.8h-3.8zM1843.9 917.6h3.8v15.2h-3.8zM1165.2 917.6h3.8v56.9h-3.8zM1411.7 921.4h3.8v3.8h-3.8zM1415.4 925.2h3.8v3.8h-3.8zM1419.2 928.9h3.8v3.8h-3.8zM1423.0 932.7h3.8v3.8h-3.8zM850.4 932.7h3.8v19.0h-3.8zM1847.7 932.7h3.8v19.0h-3.8zM1426.8 936.5h7.6v3.8h-7.6zM1434.4 940.3h3.8v3.8h-3.8zM1438.2 944.1h3.8v3.8h-3.8zM1442.0 947.9h3.8v3.8h-3.8zM581.2 947.9h3.8v49.3h-3.8zM1445.8 951.7h3.8v3.8h-3.8zM854.2 951.7h3.8v11.4h-3.8zM1851.5 951.7h3.8v11.4h-3.8zM1449.6 955.5h3.8v37.9h-3.8zM858.0 963.1h3.8v7.6h-3.8zM1855.3 963.1h3.8v7.6h-3.8zM861.8 970.7h3.8v11.4h-3.8zM1859.1 970.7h3.8v11.4h-3.8zM1161.4 974.5h3.8v56.9h-3.8zM865.6 982.0h3.8v11.4h-3.8zM1862.9 982.0h3.8v11.4h-3.8zM437.1 989.6h3.8v3.8h-3.8zM440.9 993.4h3.8v11.4h-3.8zM869.4 993.4h3.8v11.4h-3.8zM1866.7 993.4h3.8v11.4h-3.8zM1453.4 993.4h3.8v19.0h-3.8zM444.7 1001.0h3.8v7.6h-3.8zM1578.5 1004.8h3.8v3.8h-3.8zM873.2 1004.8h3.8v7.6h-3.8zM1870.5 1004.8h3.8v11.4h-3.8zM448.5 1008.6h3.8v3.8h-3.8zM452.3 1012.4h3.8v3.8h-3.8zM1457.2 1012.4h3.8v7.6h-3.8zM877.0 1012.4h3.8v19.0h-3.8zM456.1 1016.2h3.8v3.8h-3.8zM1874.3 1016.2h3.8v15.2h-3.8zM459.9 1020.0h7.6v3.8h-7.6zM577.4 1020.0h3.8v45.5h-3.8zM467.4 1023.8h3.8v3.8h-3.8zM471.2 1027.6h3.8v7.6h-3.8zM880.8 1031.3h3.8v15.2h-3.8zM1878.1 1031.3h3.8v15.2h-3.8zM1157.6 1031.3h3.8v64.5h-3.8zM475.0 1035.1h3.8v3.8h-3.8zM1472.3 1035.1h3.8v3.8h-3.8zM478.8 1038.9h3.8v3.8h-3.8zM1476.1 1038.9h3.8v3.8h-3.8zM482.6 1042.7h3.8v3.8h-3.8zM1479.9 1042.7h3.8v3.8h-3.8zM486.4 1046.5h3.8v3.8h-3.8zM1483.7 1046.5h3.8v3.8h-3.8zM884.6 1046.5h3.8v7.6h-3.8zM1881.9 1046.5h3.8v7.6h-3.8zM490.2 1050.3h3.8v3.8h-3.8zM1487.5 1050.3h3.8v3.8h-3.8zM494.0 1054.1h3.8v3.8h-3.8zM1491.3 1054.1h3.8v3.8h-3.8zM888.4 1054.1h3.8v7.6h-3.8zM1885.7 1054.1h3.8v11.4h-3.8zM497.8 1057.9h3.8v3.8h-3.8zM1495.1 1057.9h3.8v3.8h-3.8zM501.6 1061.7h3.8v3.8h-3.8zM1498.9 1061.7h3.8v3.8h-3.8zM892.1 1061.7h3.8v11.4h-3.8zM505.4 1065.5h3.8v3.8h-3.8zM1502.7 1065.5h3.8v3.8h-3.8zM1889.4 1065.5h3.8v7.6h-3.8zM1570.9 1065.5h3.8v19.0h-3.8zM509.2 1069.3h3.8v3.8h-3.8zM1506.5 1069.3h3.8v3.8h-3.8zM512.9 1073.1h7.6v3.8h-7.6zM1510.2 1073.1h3.8v3.8h-3.8zM895.9 1073.1h3.8v7.6h-3.8zM1893.2 1073.1h3.8v11.4h-3.8zM520.5 1076.9h3.8v3.8h-3.8zM1514.0 1076.9h7.6v3.8h-7.6zM524.3 1080.7h3.8v3.8h-3.8zM1521.6 1080.7h3.8v3.8h-3.8zM899.7 1080.7h3.8v11.4h-3.8zM528.1 1084.4h3.8v3.8h-3.8zM1525.4 1084.4h3.8v7.6h-3.8zM1897.0 1084.4h3.8v7.6h-3.8zM531.9 1088.2h3.8v3.8h-3.8zM1529.2 1088.2h3.8v3.8h-3.8zM535.7 1092.0h3.8v3.8h-3.8zM1533.0 1092.0h3.8v3.8h-3.8zM1900.8 1092.0h3.8v7.6h-3.8zM903.5 1092.0h3.8v11.4h-3.8zM539.5 1095.8h3.8v3.8h-3.8zM1536.8 1095.8h3.8v3.8h-3.8zM1153.8 1095.8h3.8v102.4h-3.8zM543.3 1099.6h7.6v3.8h-7.6zM1540.6 1099.6h7.6v3.8h-7.6zM550.9 1103.4h3.8v3.8h-3.8zM1548.2 1103.4h3.8v3.8h-3.8zM569.8 1103.4h3.8v7.6h-3.8zM907.3 1103.4h3.8v7.6h-3.8zM1904.6 1103.4h3.8v7.6h-3.8zM1567.1 1103.4h3.8v19.0h-3.8zM554.7 1107.2h3.8v3.8h-3.8zM1552.0 1107.2h3.8v7.6h-3.8zM558.4 1111.0h3.8v3.8h-3.8zM1555.7 1111.0h3.8v3.8h-3.8zM562.2 1114.8h3.8v3.8h-3.8zM1559.5 1114.8h3.8v3.8h-3.8zM1908.4 1114.8h3.8v7.6h-3.8zM566.0 1118.6h3.8v3.8h-3.8zM911.1 1118.6h3.8v3.8h-3.8zM1563.3 1118.6h3.8v3.8h-3.8zM914.9 1126.2h3.8v3.8h-3.8zM1912.2 1126.2h3.8v3.8h-3.8zM918.7 1133.7h3.8v3.8h-3.8zM1916.0 1133.7h3.8v3.8h-3.8zM926.3 1160.3h3.8v3.8h-3.8zM1923.6 1160.3h3.8v3.8h-3.8zM930.1 1167.9h3.8v3.8h-3.8zM1927.4 1167.9h3.8v3.8h-3.8zM933.9 1175.5h3.8v3.8h-3.8zM1931.2 1175.5h3.8v7.6h-3.8zM937.6 1183.1h3.8v3.8h-3.8zM1934.9 1183.1h3.8v3.8h-3.8zM941.4 1186.8h3.8v3.8h-3.8zM945.2 1190.6h3.8v7.6h-3.8zM949.0 1198.2h3.8v7.6h-3.8zM1150.0 1198.2h3.8v26.5h-3.8zM952.8 1205.8h3.8v7.6h-3.8zM956.6 1213.4h3.8v7.6h-3.8zM960.4 1221.0h3.8v7.6h-3.8zM1146.2 1224.8h3.8v11.4h-3.8zM964.2 1228.6h3.8v3.8h-3.8zM968.0 1232.4h3.8v3.8h-3.8zM971.8 1236.2h3.8v3.8h-3.8zM1142.4 1236.2h3.8v3.8h-3.8zM975.6 1239.9h3.8v3.8h-3.8zM1138.6 1239.9h3.8v3.8h-3.8zM979.4 1243.7h3.8v3.8h-3.8zM1134.8 1243.7h3.8v3.8h-3.8zM1127.2 1247.5h7.6v3.8h-7.6zM983.2 1247.5h3.8v11.4h-3.8zM1123.5 1251.3h3.8v3.8h-3.8zM1119.7 1255.1h3.8v129.0h-3.8zM986.9 1258.9h3.8v3.8h-3.8zM990.7 1262.7h3.8v3.8h-3.8zM994.5 1266.5h3.8v3.8h-3.8zM998.3 1270.3h3.8v3.8h-3.8zM1002.1 1274.1h3.8v7.6h-3.8zM1005.9 1281.7h3.8v3.8h-3.8zM1009.7 1285.5h3.8v11.4h-3.8zM1013.5 1296.8h3.8v3.8h-3.8zM1017.3 1300.6h3.8v3.8h-3.8zM1021.1 1304.4h3.8v3.8h-3.8zM1024.9 1308.2h3.8v3.8h-3.8zM1028.7 1312.0h3.8v7.6h-3.8zM1032.5 1319.6h3.8v7.6h-3.8zM1036.2 1327.2h3.8v7.6h-3.8zM1040.0 1334.8h3.8v7.6h-3.8zM1043.8 1342.3h3.8v7.6h-3.8zM1047.6 1349.9h3.8v3.8h-3.8zM1066.6 1353.7h3.8v3.8h-3.8zM1051.4 1353.7h3.8v7.6h-3.8zM1062.8 1353.7h3.8v22.8h-3.8zM1070.4 1357.5h3.8v7.6h-3.8zM1055.2 1361.3h3.8v7.6h-3.8zM1059.0 1368.9h3.8v3.8h-3.8zM1074.2 1368.9h3.8v3.8h-3.8zM1078.0 1372.7h3.8v7.6h-3.8zM1081.7 1380.3h3.8v7.6h-3.8zM1115.9 1384.1h3.8v94.8h-3.8zM1085.5 1387.9h3.8v11.4h-3.8zM1089.3 1399.2h3.8v11.4h-3.8zM1093.1 1410.6h3.8v15.2h-3.8zM1096.9 1425.8h3.8v7.6h-3.8zM1100.7 1433.4h3.8v7.6h-3.8zM1104.5 1441.0h3.8v11.4h-3.8zM1108.3 1452.3h3.8v7.6h-3.8zM1112.1 1459.9h3.8v11.4h-3.8z"/>
<path fill="#000000" stroke="#000000" stroke-width="0.3" d="M395.4 580.0h3.8v394.4h-3.8zM657.0 629.3h19.0v3.8h-19.0zM1654.3 629.3h19.0v3.8h-19.0zM596.4 629.3h3.8v22.8h-3.8zM641.9 633.1h15.2v3.8h-15.2zM676.0 633.1h11.4v3.8h-11.4zM1639.2 633.1h15.2v3.8h-15.2zM1673.3 633.1h11.4v3.8h-11.4zM1684.7 633.1h3.8v11.4h-3.8zM634.3 636.9h7.6v3.8h-7.6zM687.4 636.9h3.8v3.8h-3.8zM1631.6 636.9h7.6v3.8h-7.6zM1627.8 636.9h3.8v7.6h-3.8zM630.5 640.7h3.8v3.8h-3.8zM691.2 640.7h7.6v3.8h-7.6zM1688.5 640.7h7.6v3.8h-7.6zM1696.0 640.7h3.8v11.4h-3.8zM698.8 644.5h3.8v3.8h-3.8zM1624.0 644.5h3.8v3.8h-3.8zM626.7 644.5h3.8v7.6h-3.8zM619.1 648.3h7.6v3.8h-7.6zM702.5 648.3h7.6v3.8h-7.6zM1616.4 648.3h7.6v3.8h-7.6zM1699.8 648.3h7.6v3.8h-7.6zM1612.6 648.3h3.8v7.6h-3.8zM1707.4 648.3h3.8v7.6h-3.8zM592.6 648.3h3.8v49.3h-3.8zM615.3 652.1h3.8v3.8h-3.8zM710.1 652.1h3.8v3.8h-3.8zM713.9 652.1h3.8v11.4h-3.8zM600.2 652.1h3.8v22.8h-3.8zM611.5 655.9h3.8v3.8h-3.8zM1608.8 655.9h3.8v3.8h-3.8zM607.7 655.9h3.8v7.6h-3.8zM1711.2 655.9h3.8v7.6h-3.8zM1605.0 659.7h3.8v7.6h-3.8zM1593.7 659.7h3.8v37.9h-3.8zM717.7 663.5h3.8v3.8h-3.8zM1715.0 663.5h3.8v3.8h-3.8zM604.0 663.5h3.8v7.6h-3.8zM721.5 667.2h3.8v3.8h-3.8zM1597.5 667.2h7.6v3.8h-7.6zM1718.8 667.2h3.8v3.8h-3.8zM725.3 671.0h3.8v7.6h-3.8zM1722.6 671.0h3.8v7.6h-3.8zM729.1 678.6h3.8v3.8h-3.8zM1726.4 678.6h3.8v3.8h-3.8zM732.9 682.4h3.8v3.8h-3.8zM1730.2 682.4h3.8v3.8h-3.8zM1734.0 686.2h3.8v7.6h-3.8zM736.7 686.2h3.8v11.4h-3.8zM1737.8 693.8h3.8v7.6h-3.8zM740.5 697.6h3.8v7.6h-3.8zM588.8 697.6h3.8v60.7h-3.8zM1589.9 697.6h3.8v68.3h-3.8zM1741.6 701.4h3.8v7.6h-3.8zM744.3 705.2h3.8v3.8h-3.8zM748.0 709.0h3.8v7.6h-3.8zM1745.3 709.0h3.8v7.6h-3.8zM751.8 716.6h3.8v7.6h-3.8zM1749.1 716.6h3.8v7.6h-3.8zM755.6 724.1h3.8v3.8h-3.8zM1752.9 724.1h3.8v3.8h-3.8zM759.4 727.9h3.8v7.6h-3.8zM1756.7 727.9h3.8v7.6h-3.8zM763.2 735.5h3.8v7.6h-3.8zM1760.5 735.5h3.8v7.6h-3.8zM767.0 743.1h3.8v11.4h-3.8zM1764.3 743.1h3.8v11.4h-3.8zM770.8 754.5h3.8v11.4h-3.8zM1768.1 754.5h3.8v11.4h-3.8zM585.0 758.3h3.8v64.5h-3.8zM774.6 765.9h3.8v7.6h-3.8zM1771.9 765.9h3.8v7.6h-3.8zM1586.1 765.9h3.8v34.1h-3.8zM778.4 773.4h3.8v7.6h-3.8zM1775.7 773.4h3.8v7.6h-3.8zM1779.5 777.2h3.8v11.4h-3.8zM782.2 781.0h3.8v7.6h-3.8zM786.0 788.6h3.8v7.6h-3.8zM1783.3 788.6h3.8v7.6h-3.8zM1787.1 796.2h3.8v7.6h-3.8zM789.8 796.2h3.8v11.4h-3.8zM1582.3 800.0h3.8v72.1h-3.8zM1790.8 803.8h3.8v11.4h-3.8zM793.6 807.6h3.8v7.6h-3.8zM797.3 815.2h3.8v11.4h-3.8zM1794.6 815.2h3.8v11.4h-3.8zM1187.9 819.0h49.3v3.8h-49.3zM1184.1 819.0h3.8v7.6h-3.8zM1176.5 822.7h7.6v3.8h-7.6zM1237.2 822.7h19.0v3.8h-19.0zM1172.8 822.7h3.8v91.0h-3.8zM581.2 822.7h3.8v110.0h-3.8zM1256.2 826.5h15.2v3.8h-15.2zM801.1 826.5h3.8v11.4h-3.8zM1798.4 826.5h3.8v11.4h-3.8zM1271.3 830.3h7.6v3.8h-7.6zM1278.9 834.1h11.4v3.8h-11.4zM1290.3 837.9h11.4v3.8h-11.4zM804.9 837.9h3.8v7.6h-3.8zM1802.2 837.9h3.8v7.6h-3.8zM1301.7 841.7h7.6v3.8h-7.6zM1309.3 845.5h3.8v3.8h-3.8zM808.7 845.5h3.8v7.6h-3.8zM1806.0 845.5h3.8v7.6h-3.8zM1313.1 849.3h11.4v3.8h-11.4zM1324.4 853.1h3.8v3.8h-3.8zM812.5 853.1h3.8v7.6h-3.8zM1809.8 853.1h3.8v11.4h-3.8zM1328.2 853.1h3.8v19.0h-3.8zM816.3 860.7h3.8v15.2h-3.8zM1813.6 864.5h3.8v7.6h-3.8zM1817.4 872.1h3.8v15.2h-3.8zM1332.0 872.1h3.8v22.8h-3.8zM1578.5 872.1h3.8v132.7h-3.8zM820.1 875.8h3.8v15.2h-3.8zM1821.2 887.2h3.8v11.4h-3.8zM823.9 891.0h3.8v7.6h-3.8zM1335.8 894.8h3.8v15.2h-3.8zM827.7 898.6h3.8v11.4h-3.8zM1825.0 898.6h3.8v11.4h-3.8zM831.5 910.0h3.8v7.6h-3.8zM1339.6 910.0h3.8v7.6h-3.8zM1828.8 910.0h3.8v7.6h-3.8zM1343.4 913.8h7.6v3.8h-7.6zM1351.0 913.8h3.8v7.6h-3.8zM1169.0 913.8h3.8v231.4h-3.8zM835.3 917.6h3.8v11.4h-3.8zM1832.6 917.6h3.8v11.4h-3.8zM1354.8 921.4h3.8v3.8h-3.8zM1358.6 925.2h3.8v3.8h-3.8zM1362.4 928.9h3.8v3.8h-3.8zM839.1 928.9h3.8v7.6h-3.8zM1836.4 928.9h3.8v7.6h-3.8zM1366.1 932.7h3.8v3.8h-3.8zM577.4 932.7h3.8v87.2h-3.8zM1369.9 936.5h3.8v3.8h-3.8zM842.8 936.5h3.8v11.4h-3.8zM1840.1 936.5h3.8v11.4h-3.8zM1373.7 940.3h3.8v3.8h-3.8zM1377.5 944.1h3.8v7.6h-3.8zM1381.3 947.9h7.6v3.8h-7.6zM1388.9 947.9h3.8v11.4h-3.8zM1843.9 947.9h3.8v11.4h-3.8zM846.6 947.9h3.8v15.2h-3.8zM1392.7 959.3h3.8v3.8h-3.8zM1847.7 959.3h3.8v15.2h-3.8zM1396.5 963.1h3.8v7.6h-3.8zM850.4 963.1h3.8v11.4h-3.8zM1400.3 966.9h7.6v3.8h-7.6zM1407.9 966.9h3.8v7.6h-3.8zM399.2 970.7h3.8v3.8h-3.8zM403.0 970.7h3.8v7.6h-3.8zM1411.7 974.5h3.8v3.8h-3.8zM854.2 974.5h3.8v11.4h-3.8zM1851.5 974.5h3.8v11.4h-3.8zM406.8 978.2h3.8v3.8h-3.8zM1415.4 978.2h3.8v7.6h-3.8zM410.6 982.0h3.8v3.8h-3.8zM414.4 985.8h3.8v3.8h-3.8zM1419.2 985.8h3.8v3.8h-3.8zM858.0 985.8h3.8v7.6h-3.8zM1855.3 985.8h3.8v7.6h-3.8zM1423.0 989.6h3.8v3.8h-3.8zM418.1 989.6h3.8v7.6h-3.8zM1426.8 993.4h3.8v3.8h-3.8zM1430.6 993.4h3.8v7.6h-3.8zM861.8 993.4h3.8v11.4h-3.8zM1859.1 993.4h3.8v11.4h-3.8zM421.9 997.2h3.8v7.6h-3.8zM425.7 1001.0h3.8v3.8h-3.8zM1434.4 1001.0h3.8v3.8h-3.8zM1438.2 1004.8h3.8v3.8h-3.8zM429.5 1004.8h3.8v7.6h-3.8zM865.6 1004.8h3.8v7.6h-3.8zM1862.9 1004.8h3.8v7.6h-3.8zM1574.7 1004.8h3.8v79.6h-3.8zM1442.0 1008.6h3.8v3.8h-3.8zM433.3 1008.6h3.8v7.6h-3.8zM437.1 1012.4h3.8v3.8h-3.8zM1445.8 1012.4h3.8v3.8h-3.8zM869.4 1012.4h3.8v11.4h-3.8zM1866.7 1012.4h3.8v11.4h-3.8zM440.9 1016.2h3.8v3.8h-3.8zM1449.6 1016.2h3.8v3.8h-3.8zM444.7 1020.0h3.8v3.8h-3.8zM1453.4 1020.0h7.6v3.8h-7.6zM573.6 1020.0h3.8v94.8h-3.8zM1460.9 1023.8h3.8v3.8h-3.8zM448.5 1023.8h3.8v7.6h-3.8zM873.2 1023.8h3.8v11.4h-3.8zM1870.5 1023.8h3.8v11.4h-3.8zM1464.7 1027.6h3.8v3.8h-3.8zM452.3 1031.3h3.8v3.8h-3.8zM1468.5 1031.3h3.8v11.4h-3.8zM456.1 1035.1h3.8v3.8h-3.8zM877.0 1035.1h3.8v11.4h-3.8zM1874.3 1035.1h3.8v15.2h-3.8zM459.9 1038.9h3.8v3.8h-3.8zM463.6 1042.7h3.8v3.8h-3.8zM1472.3 1042.7h3.8v11.4h-3.8zM467.4 1046.5h3.8v3.8h-3.8zM880.8 1046.5h3.8v11.4h-3.8zM471.2 1050.3h3.8v3.8h-3.8zM1878.1 1050.3h3.8v7.6h-3.8zM475.0 1054.1h3.8v3.8h-3.8zM1476.1 1054.1h3.8v19.0h-3.8zM478.8 1057.9h7.6v3.8h-7.6zM1881.9 1057.9h3.8v7.6h-3.8zM884.6 1057.9h3.8v11.4h-3.8zM486.4 1061.7h3.8v3.8h-3.8zM490.2 1065.5h3.8v3.8h-3.8zM1885.7 1065.5h3.8v11.4h-3.8zM494.0 1069.3h3.8v3.8h-3.8zM888.4 1069.3h3.8v7.6h-3.8zM497.8 1073.1h3.8v3.8h-3.8zM1479.9 1073.1h3.8v3.8h-3.8zM501.6 1076.9h3.8v3.8h-3.8zM1483.7 1076.9h3.8v3.8h-3.8zM892.1 1076.9h3.8v7.6h-3.8zM1889.4 1076.9h3.8v7.6h-3.8zM505.4 1080.7h3.8v3.8h-3.8zM1487.5 1080.7h3.8v3.8h-3.8zM509.2 1084.4h3.8v3.8h-3.8zM1491.3 1084.4h3.8v3.8h-3.8zM895.9 1084.4h3.8v7.6h-3.8zM1893.2 1084.4h3.8v7.6h-3.8zM1570.9 1084.4h3.8v53.1h-3.8zM512.9 1088.2h3.8v3.8h-3.8zM1495.1 1088.2h3.8v3.8h-3.8zM516.7 1092.0h3.8v3.8h-3.8zM1498.9 1092.0h3.8v3.8h-3.8zM520.5 1092.0h3.8v7.6h-3.8zM1897.0 1092.0h3.8v7.6h-3.8zM899.7 1092.0h3.8v11.4h-3.8zM1502.7 1095.8h3.8v3.8h-3.8zM524.3 1099.6h3.8v3.8h-3.8zM1506.5 1099.6h3.8v3.8h-3.8zM1900.8 1099.6h3.8v11.4h-3.8zM528.1 1103.4h7.6v3.8h-7.6zM1510.2 1103.4h3.8v3.8h-3.8zM903.5 1103.4h3.8v7.6h-3.8zM535.7 1107.2h3.8v3.8h-3.8zM1514.0 1107.2h7.6v3.8h-7.6zM539.5 1111.0h3.8v3.8h-3.8zM1521.6 1111.0h3.8v3.8h-3.8zM907.3 1111.0h3.8v11.4h-3.8zM1904.6 1111.0h3.8v11.4h-3.8zM569.8 1111.0h3.8v30.3h-3.8zM543.3 1114.8h3.8v3.8h-3.8zM1525.4 1114.8h3.8v3.8h-3.8zM547.1 1114.8h3.8v7.6h-3.8zM1529.2 1118.6h3.8v3.8h-3.8zM550.9 1122.4h3.8v3.8h-3.8zM1533.0 1122.4h3.8v3.8h-3.8zM911.1 1122.4h3.8v7.6h-3.8zM1908.4 1122.4h3.8v7.6h-3.8zM554.7 1126.2h7.6v3.8h-7.6zM1536.8 1126.2h7.6v3.8h-7.6zM1544.4 1130.0h3.8v3.8h-3.8zM562.2 1130.0h3.8v7.6h-3.8zM914.9 1130.0h3.8v7.6h-3.8zM1912.2 1130.0h3.8v7.6h-3.8zM1548.2 1133.7h3.8v3.8h-3.8zM566.0 1137.5h3.8v3.8h-3.8zM1552.0 1137.5h3.8v3.8h-3.8zM918.7 1137.5h3.8v7.6h-3.8zM1916.0 1137.5h3.8v7.6h-3.8zM1567.1 1137.5h3.8v15.2h-3.8zM1555.7 1141.3h7.6v3.8h-7.6zM1563.3 1145.1h3.8v3.8h-3.8zM922.5 1145.1h3.8v7.6h-3.8zM1919.8 1145.1h3.8v7.6h-3.8zM1165.2 1145.1h3.8v98.6h-3.8zM926.3 1152.7h3.8v7.6h-3.8zM1923.6 1152.7h3.8v7.6h-3.8zM930.1 1160.3h3.8v7.6h-3.8zM1927.4 1160.3h3.8v7.6h-3.8zM933.9 1167.9h3.8v7.6h-3.8zM1931.2 1167.9h3.8v7.6h-3.8zM937.6 1175.5h3.8v7.6h-3.8zM941.4 1183.1h3.8v3.8h-3.8zM945.2 1186.8h3.8v3.8h-3.8zM949.0 1190.6h3.8v7.6h-3.8zM952.8 1198.2h3.8v3.8h-3.8zM956.6 1202.0h3.8v7.6h-3.8zM960.4 1209.6h3.8v7.6h-3.8zM964.2 1217.2h3.8v3.8h-3.8zM968.0 1221.0h3.8v3.8h-3.8zM971.8 1224.8h3.8v3.8h-3.8zM975.6 1228.6h3.8v3.8h-3.8zM979.4 1232.4h3.8v3.8h-3.8zM983.2 1236.2h3.8v7.6h-3.8zM986.9 1243.7h3.8v3.8h-3.8zM1161.4 1243.7h3.8v3.8h-3.8zM990.7 1247.5h3.8v3.8h-3.8zM1157.6 1247.5h3.8v26.5h-3.8zM994.5 1251.3h3.8v3.8h-3.8zM998.3 1255.1h3.8v3.8h-3.8zM1002.1 1258.9h3.8v3.8h-3.8zM1005.9 1262.7h3.8v3.8h-3.8zM1009.7 1266.5h3.8v3.8h-3.8zM1013.5 1270.3h3.8v7.6h-3.8zM1153.8 1274.1h3.8v166.9h-3.8zM1017.3 1277.9h3.8v3.8h-3.8zM1021.1 1281.7h3.8v3.8h-3.8zM1024.9 1285.5h3.8v3.8h-3.8zM1028.7 1289.2h3.8v3.8h-3.8zM1032.5 1293.0h3.8v3.8h-3.8zM1036.2 1296.8h3.8v7.6h-3.8zM1040.0 1304.4h3.8v7.6h-3.8zM1043.8 1312.0h3.8v3.8h-3.8zM1047.6 1315.8h3.8v3.8h-3.8zM1051.4 1319.6h3.8v7.6h-3.8zM1055.2 1327.2h3.8v3.8h-3.8zM1059.0 1331.0h3.8v7.6h-3.8zM1062.8 1338.6h3.8v15.2h-3.8zM1096.9 1346.1h3.8v34.1h-3.8zM1066.6 1349.9h3.8v3.8h-3.8zM1070.4 1353.7h3.8v3.8h-3.8zM1100.7 1357.5h3.8v3.8h-3.8zM1074.2 1357.5h3.8v11.4h-3.8zM1104.5 1361.3h3.8v3.8h-3.8zM1108.3 1365.1h3.8v3.8h-3.8zM1078.0 1368.9h3.8v3.8h-3.8zM1112.1 1368.9h3.8v3.8h-3.8zM1081.7 1372.7h3.8v7.6h-3.8zM1115.9 1372.7h3.8v11.4h-3.8zM1085.5 1376.5h3.8v7.6h-3.8zM1093.1 1376.5h3.8v30.3h-3.8zM1089.3 1384.1h3.8v11.4h-3.8zM1119.7 1384.1h3.8v11.4h-3.8zM1123.5 1395.4h3.8v7.6h-3.8zM1127.2 1403.0h3.8v7.6h-3.8zM1131.0 1410.6h3.8v3.8h-3.8zM1134.8 1414.4h3.8v7.6h-3.8zM1138.6 1422.0h3.8v7.6h-3.8zM1142.4 1429.6h3.8v7.6h-3.8zM1146.2 1433.4h3.8v7.6h-3.8zM1150.0 1437.2h3.8v3.8h-3.8z"/>
<text class="sans tg" transform="scale(0.9296 1)" x="292.8 317.2 346.6 376.0" y="196.6" font-size="52.8">1600</text>
<text class="sans tg" transform="scale(0.9296 1)" x="292.8 317.2 346.6 376.0" y="356.2" font-size="52.8">1400</text>
<text class="sans tg" transform="scale(0.9296 1)" x="292.8 317.2 346.6 376.0" y="519.3" font-size="52.8">1200</text>
<text class="sans tg" transform="scale(0.9296 1)" x="292.8 317.2 346.6 376.0" y="681.9" font-size="52.8">1000</text>
<text class="sans tg" transform="scale(0.9296 1)" x="317.2 346.6 376.0" y="845.2" font-size="52.8">800</text>
<text class="sans tg" transform="scale(0.9296 1)" x="317.2 346.6 376.0" y="1004.7" font-size="52.8">600</text>
<text class="sans tg" transform="scale(0.9296 1)" x="317.2 346.6 376.0" y="1167.7" font-size="52.8">400</text>
<text class="sans tg" transform="scale(0.9296 1)" x="317.2 346.6 376.0" y="1330.6" font-size="52.8">200</text>
<text class="sans tg" transform="scale(0.9296 1)" x="376.0" y="1493.8" font-size="52.8">0</text>
<text class="sans tg" x="379.9" y="1535.6" font-size="52.8" textLength="27.3" lengthAdjust="spacingAndGlyphs">0</text>
<text class="sans tg" transform="scale(0.987 1)" x="599.0 628.4 647.7" y="1535.6" font-size="52.8">0.1</text>
<text class="sans tg" transform="scale(0.987 1)" x="837.2 866.6 881.2" y="1535.6" font-size="52.8">0.2</text>
<text class="sans tg" transform="scale(0.987 1)" x="1075.6 1104.9 1119.6" y="1535.6" font-size="52.8">0.3</text>
<text class="sans tg" transform="scale(0.987 1)" x="1313.6 1342.9 1357.6" y="1535.6" font-size="52.8">0.4</text>
<text class="sans tg" transform="scale(0.987 1)" x="1547.5 1576.9 1591.6" y="1535.6" font-size="52.8">0.5</text>
<text class="sans tg" transform="scale(0.987 1)" x="1789.8 1819.1 1833.8" y="1535.6" font-size="52.8">0.6</text>
<text class="sans tg" transform="scale(0.987 1)" x="2028.3 2057.6 2072.3" y="1535.6" font-size="52.8">0.7</text>
<rect x="1019.1" y="255.9" width="496.9" height="230.9" fill="#fff" stroke="#000" stroke-width="3.8"/>
<path d="M1047.6 297.5H1199.2" stroke="#00ff00" stroke-width="3.9" fill="none"/>
<text class="sans tw" x="1211.3" y="317.6" font-size="51.6" textLength="281" lengthAdjust="spacingAndGlyphs">Profile no.(1)</text>
<path d="M1047.6 369.5H1199.2" stroke="#ff0000" stroke-width="3.9" fill="none"/>
<text class="sans tw" x="1211.3" y="390.1" font-size="51.6" textLength="281" lengthAdjust="spacingAndGlyphs">Profile no.(2)</text>
<path d="M1047.6 441.8H1199.2" stroke="#000000" stroke-width="3.9" fill="none"/>
<text class="sans tw" x="1211.3" y="462.1" font-size="51.6" textLength="281" lengthAdjust="spacingAndGlyphs">Profile no.(3)</text>
<text class="serif" y="1694.5" font-size="103"><tspan x="985.2" textLength="213.8" lengthAdjust="spacingAndGlyphs">Time</tspan> <tspan x="1222.1" textLength="106.4" lengthAdjust="spacingAndGlyphs">(s)</tspan></text>
<text class="serif" transform="translate(148.8 1433) rotate(-90)" y="0" font-size="104"><tspan x="-3.1" textLength="381.6" lengthAdjust="spacingAndGlyphs">Follower</tspan> <tspan x="401" textLength="353.2" lengthAdjust="spacingAndGlyphs">Velocity</tspan> <tspan x="782.6" textLength="290.4" lengthAdjust="spacingAndGlyphs">(mm/s)</tspan></text>
</svg></body></html>
